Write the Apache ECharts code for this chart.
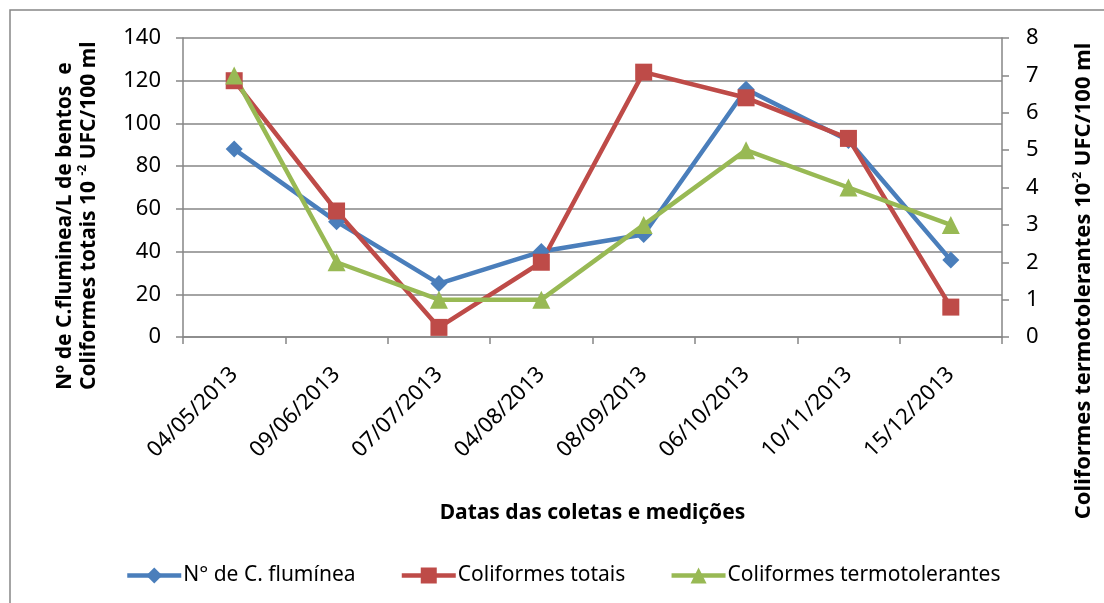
<!DOCTYPE html>
<html>
<head>
<meta charset="utf-8">
<script src="https://cdn.jsdelivr.net/npm/echarts@6/dist/echarts.min.js"></script>
<style>
  html, body { margin: 0; padding: 0; background: #fff; }
  #chart { width: 1104px; height: 603px; }
</style>
</head>
<body>
<div id="chart"></div>
<script>
const datas = ['04/05/2013', '09/06/2013', '07/07/2013', '04/08/2013', '08/09/2013', '06/10/2013', '10/11/2013', '15/12/2013']
const fluminea = [88, 54, 25, 40, 48, 116, 92, 36]
const colifTotais = [120, 59, 4.5, 35, 124, 112, 93, 14]
const colifTermo = [7, 2, 1, 1, 3, 5, 4, 3]
const nomes = ['N° de C. flumínea', 'Coliformes totais', 'Coliformes termotolerantes']
const cores = ['#4A7EBB', '#BE4B48', '#98B954']

const font = 'Noto Sans'
const eixo = '#868686'

let myChart = echarts.init(document.getElementById('chart'))
myChart.setOption({
    animation: false,
    textStyle: { fontFamily: font },
    grid: { left: 183, right: 102, top: 38, bottom: 266 },
    legend: {
        left: 120,
        top: 560,
        itemWidth: 54,
        itemHeight: 20,
        itemGap: 44,
        textStyle: { fontSize: 21, color: '#000', fontFamily: font, padding: [0, 0, 0, -3] },
        data: nomes.map((n, i) => ({ name: n, lineStyle: { width: 4.5, color: cores[i] } }))
    },
    xAxis: {
        type: 'category',
        data: datas,
        boundaryGap: true,
        name: 'Datas das coletas e medições',
        nameLocation: 'middle',
        nameGap: 166,
        nameTextStyle: { fontSize: 21, fontWeight: 'bold', color: '#000' },
        axisLine: { lineStyle: { color: eixo, width: 1.5 } },
        axisTick: { show: true, length: 7, alignWithLabel: false, lineStyle: { color: eixo, width: 1.5 } },
        axisLabel: { rotate: 45, fontSize: 22, color: '#000', margin: 34 }
    },
    yAxis: [
        {
            type: 'value',
            min: 0, max: 140, interval: 20,
            axisLine: { show: true, lineStyle: { color: eixo, width: 1.5 } },
            axisTick: { show: true, length: 7, lineStyle: { color: eixo, width: 1.5 } },
            axisLabel: { fontSize: 22, color: '#000', margin: 22 },
            splitLine: { lineStyle: { color: eixo, width: 1.5 } }
        },
        {
            type: 'value',
            min: 0, max: 8, interval: 1,
            axisLine: { show: true, lineStyle: { color: eixo, width: 1.5 } },
            axisTick: { show: true, length: 7, lineStyle: { color: eixo, width: 1.5 } },
            axisLabel: { fontSize: 22, color: '#000', margin: 24 },
            splitLine: { show: false }
        }
    ],
    graphic: [
        {
            type: 'rect',
            shape: { x: 10, y: 10, width: 1200, height: 700 },
            style: { fill: 'none', stroke: eixo, lineWidth: 1.5 },
            silent: true
        },
        {
            type: 'text',
            x: 77, y: 390,
            rotation: Math.PI / 2,
            style: {
                text: '{b|Nº de C.fluminea/L de bentos  e}\n{b|Coliformes totais 10 }{s|-2}{b| UFC/100 ml}',
                align: 'left',
                verticalAlign: 'middle',
                rich: {
                    b: { fontSize: 21, fontWeight: 'bold', fontFamily: font, fill: '#000', lineHeight: 24 },
                    s: { fontSize: 12, fontWeight: 'bold', fontFamily: font, fill: '#000', lineHeight: 24, verticalAlign: 'top', padding: [0, 0, 8, 0] }
                }
            }
        },
        {
            type: 'text',
            x: 1084, y: 281,
            rotation: Math.PI / 2,
            style: {
                text: '{b|Coliformes termotolerantes 10}{s|-2}{b| UFC/100 ml}',
                align: 'center',
                verticalAlign: 'middle',
                rich: {
                    b: { fontSize: 22, fontWeight: 'bold', fontFamily: font, fill: '#000', lineHeight: 24 },
                    s: { fontSize: 12, fontWeight: 'bold', fontFamily: font, fill: '#000', lineHeight: 24, verticalAlign: 'top', padding: [0, 0, 8, 0] }
                }
            }
        }
    ],
    series: [
        {
            name: nomes[0],
            type: 'line',
            data: fluminea,
            yAxisIndex: 0,
            symbol: 'diamond',
            symbolSize: 17,
            lineStyle: { width: 4.5, color: cores[0] },
            itemStyle: { color: cores[0] }
        },
        {
            name: nomes[1],
            type: 'line',
            data: colifTotais,
            yAxisIndex: 0,
            symbol: 'rect',
            symbolSize: 17,
            lineStyle: { width: 4.5, color: cores[1] },
            itemStyle: { color: cores[1] }
        },
        {
            name: nomes[2],
            type: 'line',
            data: colifTermo,
            yAxisIndex: 1,
            symbol: 'triangle',
            symbolSize: 18,
            lineStyle: { width: 4.5, color: cores[2] },
            itemStyle: { color: cores[2] }
        }
    ]
})
</script>
</body>
</html>
